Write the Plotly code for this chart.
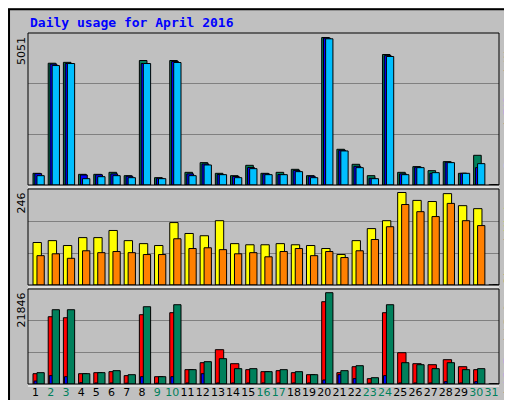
import plotly.graph_objects as go

days = list(range(1, 32))
hits  = [400,4170,4200,365,365,434,320,4263,251,4263,434,766,400,320,674,400,434,537,320,5051,1223,709,320,4469,434,629,491,800,400,1017,0]
files = [390,4140,4160,343,350,380,300,4160,230,4230,380,720,360,290,600,380,360,500,300,5030,1190,640,230,4430,380,610,400,780,400,594,0]
pages = [320,4090,4160,217,285,320,251,4160,217,4195,320,686,354,251,560,354,354,457,251,5006,1166,594,217,4400,354,594,423,766,400,731,0]
visits = [113,118,105,126,126,145,118,110,105,166,137,131,171,110,107,107,110,107,105,97,81,118,150,171,246,225,222,243,211,203,0]
sites  = [78,83,71,91,86,89,86,81,81,123,97,99,94,83,86,75,89,97,78,89,73,91,121,155,214,195,182,217,171,158,0]
kbf   = [2470,16100,15860,2470,2710,2950,2000,16580,1750,17060,3430,5100,8210,4860,3430,2950,3190,2710,2230,19690,2710,4140,1280,17060,7490,4860,4620,5820,4140,3430,0]
kbin  = [720,2000,1750,320,250,250,200,1750,200,1750,250,2470,250,250,250,250,250,250,250,960,2230,1280,200,2000,250,250,250,560,250,560,0]
kbout = [2710,17770,17770,2470,2710,3190,2230,18490,1750,18970,3430,5340,6060,3670,3670,2950,3430,2950,2230,21846,3190,4380,1510,18970,5100,4620,3670,5100,3430,3670,0]
weekend = [2,3,9,10,16,17,23,24,30,31]
max1, max2, max3 = 5051, 246, 21846

fig = go.Figure()
def bars(y, color, off, w, ax):
    fig.add_trace(go.Bar(x=days, y=y, marker=dict(color=color, line=dict(color="black", width=1)),
                         offset=off, width=w, xaxis="x" + ax, yaxis="y" + ax, showlegend=False, hoverinfo="skip"))
bars(hits, "#00805C", -0.17, 0.5, "")
bars(files, "#0000FF", -0.05, 0.45, "")
bars(pages, "#00BFFF", 0.09, 0.48, "")
bars(visits, "#FFFF00", -0.17, 0.55, "2")
bars(sites, "#FF8000", 0.09, 0.48, "2")
bars(kbf, "#FF0000", -0.17, 0.55, "3")
bars(kbin, "#0000FF", -0.1, 0.25, "3")
bars(kbout, "#00805C", 0.09, 0.48, "3")

W, H = 512, 400
xd = [20 / W, 491 / W]
doms = [(25, 177), (181, 277), (281, 376)]
tops = [max1 * 152 / 147.5, max2 * 96 / 92.5, max3 * 95 / 91.3]
layout = dict(width=W, height=H, margin=dict(l=0, r=0, t=0, b=0, autoexpand=False),
              paper_bgcolor="#C0C0C0", plot_bgcolor="#C0C0C0", barmode="overlay",
              font=dict(family="DejaVu Sans Mono", size=11, color="black"))
ticktext = [f"<span style='color:{'#00805C' if d in weekend else 'black'}'>{d}</span>" for d in days]
for i, (suf, (t, b), top) in enumerate(zip(["", "2", "3"], doms, tops)):
    layout["xaxis" + suf] = dict(domain=xd, range=[0.5, 31.5], anchor="y" + suf, automargin=False,
                                 showgrid=False, zeroline=False, fixedrange=True, tickangle=0,
                                 tickvals=days if i == 2 else [], ticktext=ticktext if i == 2 else None,
                                 ticks="", ticklen=0, tickfont=dict(size=11, family="DejaVu Sans"))
    layout["yaxis" + suf] = dict(domain=[1 - b / H, 1 - t / H], range=[0, top], anchor="x" + suf,
                                 automargin=False,
                                 tickvals=[top / 3, 2 * top / 3], showticklabels=False,
                                 gridcolor="#808080", gridwidth=1, zeroline=False, fixedrange=True)
fig.update_layout(**layout)

shapes = [dict(type="rect", xref="paper", yref="paper", x0=0.002, x1=0.998, y0=0.003, y1=0.997,
               line=dict(color="black", width=2))]
for (t, b) in doms:
    shapes.append(dict(type="rect", xref="paper", yref="paper", x0=xd[0], x1=xd[1],
                       y0=1 - b / H, y1=1 - t / H, line=dict(color="black", width=1)))
    shapes.append(dict(type="line", xref="paper", yref="paper", x0=xd[0], x1=xd[1],
                       y0=1 - (b + 2) / H, y1=1 - (b + 2) / H, line=dict(color="white", width=1)))
fig.update_layout(shapes=shapes)

ann = [dict(text="<b>Daily usage for April 2016</b>", x=20 / W, y=1 - 15 / H, xref="paper", yref="paper",
            xanchor="left", yanchor="middle", showarrow=False,
            font=dict(color="#0000FF", size=13, family="DejaVu Sans Mono"))]
for (t, b), lab in zip(doms, ["5051", "246", "21846"]):
    ann.append(dict(text=lab, x=13 / W, y=1 - (t + 2) / H, xref="paper", yref="paper",
                    xanchor="center", yanchor="top", textangle=-90, showarrow=False,
                    font=dict(size=11, family="DejaVu Sans")))
rl = ["<span style='color:#00BFFF'>Pages</span> / <span style='color:#0000FF'>Files</span> / <span style='color:#00805C'>Hits</span>",
      "<span style='color:#FF8000'>Sites</span> / <span style='color:#FFFF00'>Visits</span>",
      "<span style='color:#FF0000'>kB F</span> / <span style='color:#0000FF'>kB In</span> / <span style='color:#00805C'>kB Out</span>"]
for (t, b), lab in zip(doms, rl):
    ann.append(dict(text=lab, x=500 / W, y=1 - (t + 1) / H, xref="paper", yref="paper",
                    xanchor="center", yanchor="top", textangle=-90, showarrow=False,
                    font=dict(size=11, family="DejaVu Sans Mono")))
fig.update_layout(annotations=ann)
fig.write_html("out.html")
